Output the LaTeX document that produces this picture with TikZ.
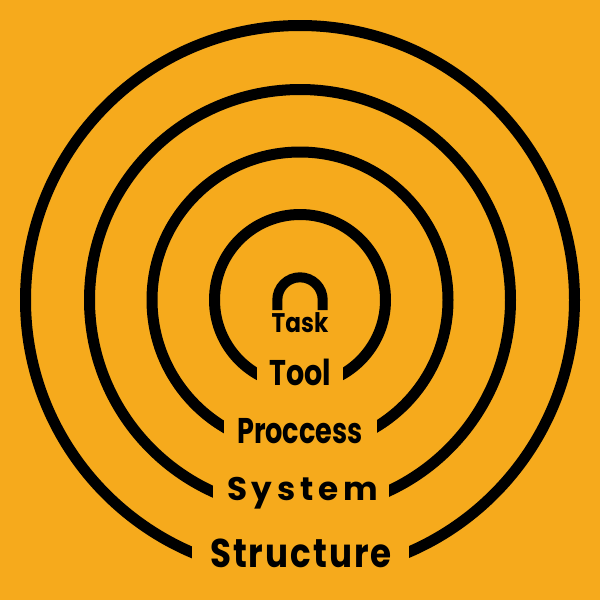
\documentclass[tikz,border=0pt]{standalone}
\usepackage{graphicx}
\usepackage{fontspec}
\setmainfont{Poppins}
\definecolor{bg}{HTML}{F6AA1C}
\begin{document}
\begin{tikzpicture}[x=0.75pt,y=-0.75pt,
  ring/.style={draw=black,line width=8.25pt},
  cover/.style={fill=bg},
  lbl/.style={inner sep=0pt,text=black,anchor=base}]
\fill[bg] (0,0) rectangle (600,600);
\useasboundingbox (0,0) rectangle (600,600);
% rings
\draw[ring] (300,300) circle[radius=85.5];
\draw[ring] (300,300) circle[radius=148];
\draw[ring] (300,300) circle[radius=210.5];
\draw[ring] (300,300) circle[radius=274.5];
% gaps
\fill[cover] (257,358) rectangle (343,398);
\fill[cover] (224,412) rectangle (377,462);
\fill[cover] (213,476) rectangle (388.5,524);
\fill[cover] (192,536) rectangle (409,586);
% arch
\draw[black,line width=7.5pt] (277.3,310) -- (277.3,300) arc[start angle=180,end angle=360,radius=22.7] -- (322.7,310);
% labels
\node[lbl,font=\fontsize{20.2}{20.2}\selectfont\bfseries] (task) at (300,332.7) {\scalebox{0.86}[1]{Task}};
\node[lbl,font=\fontsize{26.8}{26.8}\selectfont\bfseries] (tool) at (300,385) {\scalebox{0.8}[1]{Tool}};
\node[lbl,font=\fontsize{26.8}{26.8}\selectfont\bfseries] (process) at (300,443) {\scalebox{0.76}[1]{Proccess}};
\node[lbl,font=\fontsize{24.5}{24.5}\selectfont\bfseries\addfontfeature{LetterSpace=14.4}] (system) at (302.4,500) {System};
\node[lbl,font=\fontsize{30.1}{30.1}\selectfont\bfseries\addfontfeature{LetterSpace=6}] (structure) at (301,567) {\scalebox{0.85}[1]{Structure}};
\end{tikzpicture}
\end{document}
